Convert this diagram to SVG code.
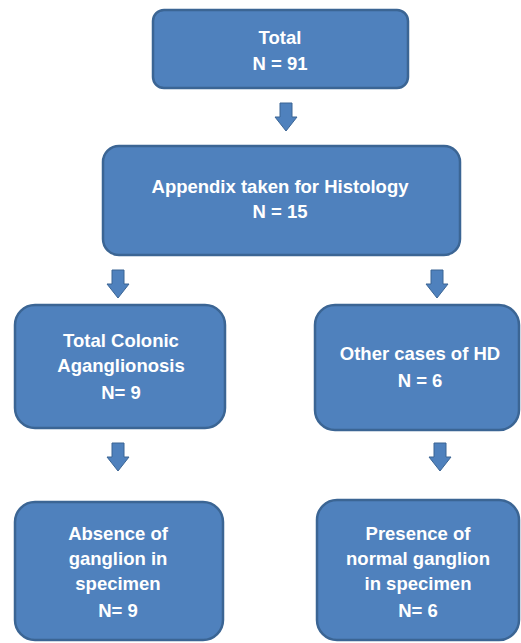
<svg xmlns="http://www.w3.org/2000/svg" width="521" height="643" viewBox="0 0 521 643">
<style>
.box{fill:#4F81BD;stroke:#3B6594;stroke-width:2.5}
.arr{fill:#4F81BD;stroke:#3B6594;stroke-width:1}
text{font-family:"Liberation Sans",Arial,sans-serif;font-weight:bold;font-size:18.5px;fill:#FFFFFF;text-anchor:middle}
</style>
<defs>
<path id="ar" d="M-6,0 H6 V14 H11 L0,28 L-11,14 H-6 Z"/>
</defs>
<rect width="521" height="643" fill="#FFFFFF"/>
<g id="connectors">
<use href="#ar" class="arr" x="286" y="103"/>
<use href="#ar" class="arr" x="118" y="270"/>
<use href="#ar" class="arr" x="437" y="270"/>
<use href="#ar" class="arr" x="118" y="443"/>
<use href="#ar" class="arr" x="440" y="443"/>
</g>
<g id="total">
<rect class="box" x="153" y="10" width="255" height="78" rx="11"/>
<text x="280" y="44">Total</text>
<text x="280" y="70">N = 91</text>
</g>
<g id="appendix">
<rect class="box" x="103" y="146" width="357" height="109" rx="16"/>
<text x="280" y="193">Appendix taken for Histology</text>
<text x="280" y="218">N = 15</text>
</g>
<g id="tca">
<rect class="box" x="15" y="305" width="210" height="123" rx="20"/>
<text x="121" y="347">Total Colonic</text>
<text x="121" y="372">Aganglionosis</text>
<text x="121" y="399">N= 9</text>
</g>
<g id="other">
<rect class="box" x="315" y="305" width="204" height="125" rx="20"/>
<text x="420" y="360">Other cases of HD</text>
<text x="420" y="387">N = 6</text>
</g>
<g id="absence">
<rect class="box" x="15" y="502" width="208" height="138" rx="20"/>
<text x="118" y="540">Absence of</text>
<text x="118" y="565">ganglion in</text>
<text x="118" y="590">specimen</text>
<text x="118" y="617">N= 9</text>
</g>
<g id="presence">
<rect class="box" x="317" y="500" width="202" height="140" rx="20"/>
<text x="418" y="540">Presence of</text>
<text x="418" y="565">normal ganglion</text>
<text x="418" y="590">in specimen</text>
<text x="418" y="617">N= 6</text>
</g>
</svg>
